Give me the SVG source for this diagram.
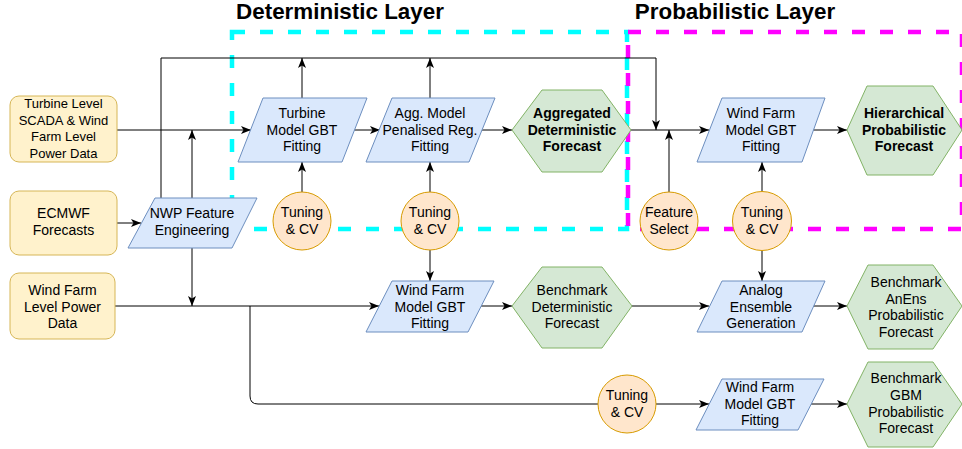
<svg xmlns="http://www.w3.org/2000/svg" width="962" height="449" viewBox="0 0 962 449">
<defs>
<marker id="arr" markerUnits="userSpaceOnUse" markerWidth="10" markerHeight="8" refX="10" refY="4" orient="auto" overflow="visible">
<path d="M0,0 L10,4 L0,8 L2.5,4 Z" fill="#000"/>
</marker>
<style>
text{font-family:"Liberation Sans",Arial,Helvetica,sans-serif;font-size:14px;fill:#000;text-anchor:middle}
.title{font-size:22.4px;font-weight:bold}
.b{font-weight:bold}
.s13{font-size:13px}
.data{fill:#fff2cc;stroke:#d6b656;stroke-width:1}
.proc{fill:#dae8fc;stroke:#6c8ebf;stroke-width:1}
.out{fill:#d5e8d4;stroke:#82b366;stroke-width:1}
.tune{fill:#ffe6cc;stroke:#d79b00;stroke-width:1}
.conn path{fill:none;stroke:#000;stroke-width:1}
.conn path.a{marker-end:url(#arr)}
.layer{fill:none;stroke-width:4.5;stroke-dasharray:13 15}
</style>
</defs>
<rect width="962" height="449" fill="#fff"/>

<g id="layers">
<rect class="layer" x="232" y="32" width="395" height="197" stroke="#00ffff"/>
<rect class="layer" x="628" y="32" width="334" height="197" stroke="#ff00ff"/>
</g>

<g id="titles">
<text class="title" x="340" y="19">Deterministic Layer</text>
<text class="title" x="735" y="19">Probabilistic Layer</text>
</g>

<g class="conn" id="connectors">
<path class="a" d="M117,130 H251"/>
<path class="a" d="M117,223 H141"/>
<path class="a" d="M192,198 V130"/>
<path class="a" d="M161,198 V58 H656 V130"/>
<path class="a" d="M302,98 V58"/>
<path class="a" d="M430,98 V58"/>
<path class="a" d="M354,130 H380"/>
<path class="a" d="M481,130 H512"/>
<path class="a" d="M631,130 H709"/>
<path class="a" d="M669,192 V130"/>
<path class="a" d="M813,130 H847"/>
<path class="a" d="M302,192 V162"/>
<path class="a" d="M430,192 V162"/>
<path class="a" d="M430,250 V281"/>
<path class="a" d="M762,191 V162"/>
<path class="a" d="M762,251 V281"/>
<path class="a" d="M192,248 V306"/>
<path class="a" d="M115,306 H379"/>
<path d="M250,306 V396 Q250,404 258,404 H598"/>
<path class="a" d="M481,306 H512"/>
<path class="a" d="M632,306 H709"/>
<path class="a" d="M813,306 H847"/>
<path class="a" d="M656,404 H709"/>
<path class="a" d="M811,404 H847"/>
</g>

<g id="turbine-data">
<rect class="data" x="10" y="96" width="107" height="66" rx="9"/>
<text class="s13" x="63.5" y="108">Turbine Level</text>
<text class="s13" x="63.5" y="124.5">SCADA &amp; Wind</text>
<text class="s13" x="63.5" y="141">Farm Level</text>
<text class="s13" x="63.5" y="157.5">Power Data</text>
</g>

<g id="ecmwf">
<rect class="data" x="10" y="191" width="107" height="64" rx="9"/>
<text x="63.5" y="218">ECMWF</text>
<text x="63.5" y="235">Forecasts</text>
</g>

<g id="wf-data">
<rect class="data" x="10" y="273" width="105" height="66" rx="9"/>
<text x="62.5" y="295">Wind Farm</text>
<text x="62.5" y="312">Level Power</text>
<text x="62.5" y="328">Data</text>
</g>

<g id="nwp">
<polygon class="proc" points="155,198 257,198 232,248 128,248"/>
<text x="192" y="218">NWP Feature</text>
<text x="192" y="235">Engineering</text>
</g>

<g id="turbine-gbt">
<polygon class="proc" points="263,98 367,98 342,162 238,162"/>
<text x="302" y="118">Turbine</text>
<text x="302" y="134.5">Model GBT</text>
<text x="302" y="151">Fitting</text>
</g>

<g id="agg-model">
<polygon class="proc" points="392,98 495,98 469,162 366,162"/>
<text x="430" y="118">Agg. Model</text>
<text x="430" y="134.5">Penalised Reg.</text>
<text x="430" y="151">Fitting</text>
</g>

<g id="agg-det">
<polygon class="out" points="512,130 542,90 602,90 631,130 602,172 542,172"/>
<text class="b" x="572" y="118">Aggregated</text>
<text class="b" x="572" y="134.5">Deterministic</text>
<text class="b" x="572" y="151">Forecast</text>
</g>

<g id="wf-gbt-prob">
<polygon class="proc" points="722,98 825,98 802,162 697,162"/>
<text x="761" y="118">Wind Farm</text>
<text x="761" y="134.5">Model GBT</text>
<text x="761" y="151">Fitting</text>
</g>

<g id="hier-prob">
<polygon class="out" points="847,130 867,86 933,86 962,130 933,175 867,175"/>
<text class="b" x="904" y="118">Hierarchical</text>
<text class="b" x="904" y="134.5">Probabilistic</text>
<text class="b" x="904" y="151">Forecast</text>
</g>

<g id="tune1">
<circle class="tune" cx="302" cy="221" r="29"/>
<text x="302" y="217">Tuning</text>
<text x="302" y="234">&amp; CV</text>
</g>

<g id="tune2">
<circle class="tune" cx="430" cy="221" r="29"/>
<text x="430" y="217">Tuning</text>
<text x="430" y="234">&amp; CV</text>
</g>

<g id="feature-select">
<circle class="tune" cx="669" cy="221" r="29"/>
<text x="669" y="217">Feature</text>
<text x="669" y="234">Select</text>
</g>

<g id="tune3">
<circle class="tune" cx="762" cy="221" r="29.5"/>
<text x="762" y="217">Tuning</text>
<text x="762" y="234">&amp; CV</text>
</g>

<g id="wf-gbt-det">
<polygon class="proc" points="392,281 494,281 468,332 366,332"/>
<text x="430" y="295">Wind Farm</text>
<text x="430" y="311.5">Model GBT</text>
<text x="430" y="327.5">Fitting</text>
</g>

<g id="bench-det">
<polygon class="out" points="512,306 542,267 602,267 632,306 602,348 542,348"/>
<text x="572" y="295">Benchmark</text>
<text x="572" y="311.5">Deterministic</text>
<text x="572" y="327.5">Forecast</text>
</g>

<g id="analog">
<polygon class="proc" points="722,281 825,281 802,332 697,332"/>
<text x="761" y="295">Analog</text>
<text x="761" y="311.5">Ensemble</text>
<text x="761" y="327.5">Generation</text>
</g>

<g id="anens">
<polygon class="out" points="847,306 868,265 933,265 962,306 933,349 868,349"/>
<text x="906" y="287">Benchmark</text>
<text x="906" y="303.5">AnEns</text>
<text x="906" y="320">Probabilistic</text>
<text x="906" y="336.5">Forecast</text>
</g>

<g id="tune4">
<circle class="tune" cx="627" cy="404" r="29"/>
<text x="627" y="400">Tuning</text>
<text x="627" y="417">&amp; CV</text>
</g>

<g id="wf-gbt-gbm">
<polygon class="proc" points="722,379 824,379 798,430 696,430"/>
<text x="760" y="392">Wind Farm</text>
<text x="760" y="408.5">Model GBT</text>
<text x="760" y="425">Fitting</text>
</g>

<g id="gbm">
<polygon class="out" points="847,404 868,362 933,362 962,404 933,447 868,447"/>
<text x="906" y="383">Benchmark</text>
<text x="906" y="400">GBM</text>
<text x="906" y="416.5">Probabilistic</text>
<text x="906" y="433">Forecast</text>
</g>
</svg>
